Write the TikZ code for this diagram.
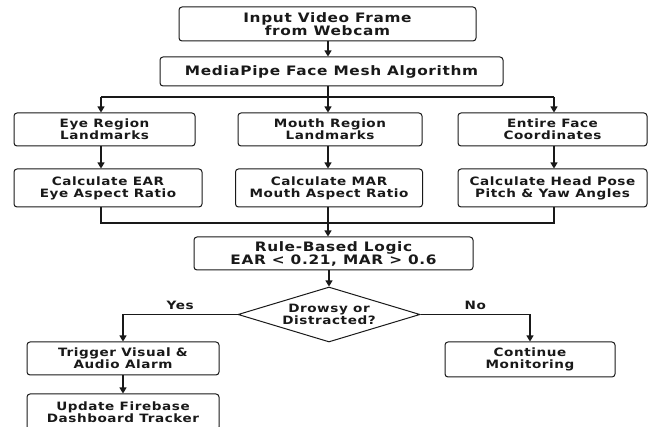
\documentclass[tikz,border=0pt]{standalone}
\usepackage{fontspec}
\setmainfont{DejaVu Sans}[FakeStretch=1.18,LetterSpace=5]
\usepackage{tikz}
\usetikzlibrary{shapes.geometric}
\usetikzlibrary{arrows.meta}
\tikzset{
	boxstyle/.style={rectangle,rounded corners=3pt,draw=black!90,line width=1pt,fill=white,align=center,inner sep=0pt,font=\fontsize{11.5}{12}\selectfont\bfseries},
	bigboxstyle/.style={boxstyle,font=\fontsize{13}{13}\selectfont\bfseries},
	decisionstyle/.style={diamond,aspect=3.3,draw=black!90,line width=1pt,fill=white,align=center,inner sep=0pt,font=\fontsize{11.5}{12}\selectfont\bfseries},
	labelstyle/.style={inner sep=1pt,font=\fontsize{11.5}{12}\selectfont\bfseries},
	arrowstyle/.style={-{Triangle[length=6pt,width=7pt]}}
}
\begin{document}
\begin{tikzpicture}[x=1pt,y=-1pt,line width=1.1pt,color=black!90]
		\useasboundingbox (0,0) rectangle (649,427);
		\node[bigboxstyle,minimum width=297pt,minimum height=34pt] (input) at (327.5,24) {Input Video Frame\\from Webcam};
		\node[bigboxstyle,minimum width=343pt,minimum height=29pt] (mesh) at (331.5,71.5) {MediaPipe Face Mesh Algorithm};
		\node[boxstyle,minimum width=181pt,minimum height=33pt] (eye) at (104.5,129.5) {Eye Region\\Landmarks};
		\node[boxstyle,minimum width=184pt,minimum height=33pt] (mouth) at (330,129.5) {Mouth Region\\Landmarks};
		\node[boxstyle,minimum width=189pt,minimum height=33pt] (face) at (552.5,129.5) {Entire Face\\Coordinates};
		\node[boxstyle,minimum width=188pt,minimum height=38pt] (ear) at (108,188) {Calculate EAR\\Eye Aspect Ratio};
		\node[boxstyle,minimum width=187pt,minimum height=38pt] (mar) at (329,188) {Calculate MAR\\Mouth Aspect Ratio};
		\node[boxstyle,minimum width=189pt,minimum height=38pt] (pose) at (552.5,188) {Calculate Head Pose\\Pitch \& Yaw Angles};
		\node[bigboxstyle,minimum width=279pt,minimum height=33pt] (rule) at (333.5,253.5) {Rule-Based Logic\\EAR < 0.21, MAR > 0.6};
		\node[decisionstyle,minimum width=182pt,minimum height=55pt] (decide) at (329,314.5) {Drowsy or\\Distracted?};
		\node[boxstyle,minimum width=192pt,minimum height=33pt] (alarm) at (123,358.5) {Trigger Visual \&\\Audio Alarm};
		\node[boxstyle,minimum width=170pt,minimum height=35pt] (monitor) at (530,359.5) {Continue\\Monitoring};
		\node[boxstyle,minimum width=192pt,minimum height=36pt] (update) at (123,412) {Update Firebase\\Dashboard Tracker};
		\coordinate (sl) at (101,97);
		\coordinate (sm) at (328,97);
		\coordinate (sr) at (554,97);
		\coordinate (jl) at (101,223);
		\coordinate (jm) at (328,223);
		\coordinate (jr) at (554,223);
		\draw[arrowstyle] (input.south -| sm) -- (sm |- mesh.north);
		\draw (mesh.south -| sm) -- (sm);
		\draw (sl) -- (sr);
		\draw[arrowstyle] (sl) -- (sl |- eye.north);
		\draw[arrowstyle] (sm) -- (sm |- mouth.north);
		\draw[arrowstyle] (sr) -- (sr |- face.north);
		\draw[arrowstyle] (eye.south -| sl) -- (sl |- ear.north);
		\draw[arrowstyle] (mouth.south -| sm) -- (sm |- mar.north);
		\draw[arrowstyle] (face.south -| sr) -- (sr |- pose.north);
		\draw (ear.south -| jl) -- (jl) -- (jr) -- (pose.south -| jr);
		\draw (mar.south -| jm) -- (jm);
		\draw[arrowstyle] (jm) -- (jm |- rule.north);
		\draw[arrowstyle] (rule.south -| decide.north) -- (decide.north);
		\draw[arrowstyle] (decide.west) -| node[labelstyle,pos=0.25,above=3pt] (yes) {Yes} (alarm.north);
		\draw[arrowstyle] (decide.east) -| node[labelstyle,pos=0.25,above=3pt] (no) {No} (monitor.north);
		\draw[arrowstyle] (alarm) -- (update);
		\end{tikzpicture}
\end{document}
